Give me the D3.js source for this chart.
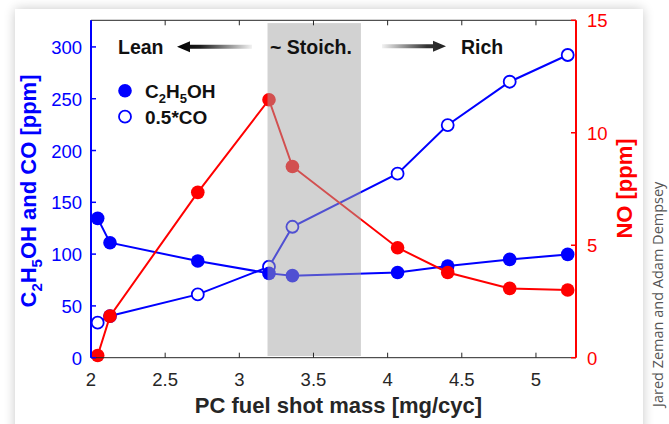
<!DOCTYPE html>
<html>
<head>
<meta charset="utf-8">
<script src="https://cdn.jsdelivr.net/npm/d3@7"></script>
<style>
  html, body { margin: 0; padding: 0; background: #ffffff; }
  svg { display: block; }
</style>
</head>
<body>
<svg id="chart" width="669" height="424"></svg>
<script>
// PC fuel shot mass sweep: emissions measured at each injection setting
const shotMass = [2.045, 2.128, 2.72, 3.2, 3.358, 4.067, 4.405, 4.823, 5.214];
const ethanolPpm = [134.5, 111, 93.3, 81.4, 79.2, 82.3, 88.5, 94.9, 99.7];
const halfCoPpm = [33.8, 40.2, 61.1, 87.8, 126.4, 177.6, 224.6, 266.4, 292.2];
const noPpm = [0.1, 1.85, 7.35, 11.47, 8.5, 4.89, 3.79, 3.08, 3.01];

const xTicks = [2, 2.5, 3, 3.5, 4, 4.5, 5];
const leftTicks = [0, 50, 100, 150, 200, 250, 300];
const rightTicks = [0, 5, 10, 15];
const stoichBand = [3.19, 3.82];
const stoichBandY = [1.6, 323];

const svg = d3.select("#chart");
const FONT = "'Liberation Sans', Arial, Helvetica, sans-serif";
const BLUE = "#0000ff", RED = "#ff0000", DARK = "#262626";

const plot = { left: 91, right: 576, top: 20.3, bottom: 357.7 };

const x = d3.scaleLinear().domain([2, 5.27]).range([plot.left, plot.right]);
const yL = d3.scaleLinear().domain([0, 325.7]).range([plot.bottom, plot.top]);
const yR = d3.scaleLinear().domain([0, 15]).range([plot.bottom, plot.top]);

// ---- card with soft shadow ----
const defs = svg.append("defs");
const shadow = defs.append("filter").attr("id", "cardShadow")
  .attr("x", "-10%").attr("y", "-10%").attr("width", "120%").attr("height", "120%");
shadow.append("feGaussianBlur").attr("in", "SourceAlpha").attr("stdDeviation", 6).attr("result", "b");
shadow.append("feOffset").attr("in", "b").attr("dx", 0).attr("dy", 0).attr("result", "o");
shadow.append("feComponentTransfer").attr("in", "o").attr("result", "s")
  .append("feFuncA").attr("type", "linear").attr("slope", 0.22);
const merge = shadow.append("feMerge");
merge.append("feMergeNode").attr("in", "s");
merge.append("feMergeNode").attr("in", "SourceGraphic");

svg.append("rect").attr("x", 15).attr("y", 9).attr("width", 628).attr("height", 440)
  .attr("fill", "#ffffff").attr("filter", "url(#cardShadow)");

// credit line beside the card
svg.append("text")
  .attr("transform", "translate(663,407) rotate(-90)")
  .attr("font-family", "'Open Sans', 'DejaVu Sans', sans-serif")
  .attr("font-size", 14.5).attr("fill", "#555555")
  .text("Jared Zeman and Adam Dempsey");

// ---- data lines and markers ----
const pts = (ys) => shotMass.map((m, i) => [m, ys[i]]);
const lineL = d3.line().x(d => x(d[0])).y(d => yL(d[1]));
const lineR = d3.line().x(d => x(d[0])).y(d => yR(d[1]));

svg.append("path").attr("d", lineL(pts(ethanolPpm)))
  .attr("fill", "none").attr("stroke", BLUE).attr("stroke-width", 2);
svg.append("path").attr("d", lineL(pts(halfCoPpm)))
  .attr("fill", "none").attr("stroke", BLUE).attr("stroke-width", 2);

svg.append("g").selectAll("circle").data(pts(halfCoPpm)).join("circle")
  .attr("cx", d => x(d[0])).attr("cy", d => yL(d[1])).attr("r", 6)
  .attr("fill", "#ffffff").attr("stroke", BLUE).attr("stroke-width", 1.8);
svg.append("g").selectAll("circle").data(pts(ethanolPpm)).join("circle")
  .attr("cx", d => x(d[0])).attr("cy", d => yL(d[1])).attr("r", 6.8)
  .attr("fill", BLUE);

svg.append("path").attr("d", lineR(pts(noPpm)))
  .attr("fill", "none").attr("stroke", RED).attr("stroke-width", 2);
svg.append("g").selectAll("circle").data(pts(noPpm)).join("circle")
  .attr("cx", d => x(d[0])).attr("cy", d => yR(d[1])).attr("r", 6.8)
  .attr("fill", RED);

// translucent stoichiometric band over the data
svg.append("rect")
  .attr("x", x(stoichBand[0])).attr("width", x(stoichBand[1]) - x(stoichBand[0]))
  .attr("y", yL(stoichBandY[1])).attr("height", yL(stoichBandY[0]) - yL(stoichBandY[1]))
  .attr("fill", "rgb(163,163,163)").attr("fill-opacity", 0.49);

// ---- axes ----
const tickLen = 5;
// top and bottom frame
svg.append("line").attr("x1", plot.left).attr("x2", plot.right)
  .attr("y1", plot.top).attr("y2", plot.top).attr("stroke", DARK).attr("stroke-width", 1);
svg.append("line").attr("x1", plot.left).attr("x2", plot.right)
  .attr("y1", plot.bottom).attr("y2", plot.bottom).attr("stroke", DARK).attr("stroke-width", 1);

const xg = svg.append("g").attr("font-family", FONT);
xTicks.forEach(t => {
  const px = x(t);
  xg.append("line").attr("x1", px).attr("x2", px).attr("y1", plot.bottom).attr("y2", plot.bottom - tickLen)
    .attr("stroke", DARK);
  xg.append("line").attr("x1", px).attr("x2", px).attr("y1", plot.top).attr("y2", plot.top + tickLen)
    .attr("stroke", DARK);
  xg.append("text").attr("x", px).attr("y", 386).attr("text-anchor", "middle")
    .attr("font-size", 18.5).attr("fill", DARK).text(d3.format("~g")(t));
});

// left axis
const lg = svg.append("g").attr("font-family", FONT);
lg.append("line").attr("x1", plot.left).attr("x2", plot.left)
  .attr("y1", plot.top).attr("y2", plot.bottom).attr("stroke", BLUE).attr("stroke-width", 2);
leftTicks.forEach(t => {
  const py = yL(t);
  lg.append("line").attr("x1", plot.left).attr("x2", plot.left + tickLen)
    .attr("y1", py).attr("y2", py).attr("stroke", BLUE).attr("stroke-width", 1.5);
  lg.append("text").attr("x", 82).attr("y", py + 7).attr("text-anchor", "end")
    .attr("font-size", 18.5).attr("fill", BLUE).text(t);
});

// right axis
const rg = svg.append("g").attr("font-family", FONT);
rg.append("line").attr("x1", plot.right).attr("x2", plot.right)
  .attr("y1", plot.top).attr("y2", plot.bottom).attr("stroke", RED).attr("stroke-width", 2);
rightTicks.forEach(t => {
  const py = yR(t);
  rg.append("line").attr("x1", plot.right).attr("x2", plot.right - tickLen)
    .attr("y1", py).attr("y2", py).attr("stroke", RED).attr("stroke-width", 1.5);
  rg.append("text").attr("x", 587).attr("y", py + 7).attr("text-anchor", "start")
    .attr("font-size", 18.5).attr("fill", RED).text(t);
});

// ---- axis titles ----
svg.append("text").attr("x", 338.5).attr("y", 413).attr("text-anchor", "middle")
  .attr("font-family", FONT).attr("font-weight", "bold").attr("font-size", 22)
  .attr("fill", DARK).text("PC fuel shot mass [mg/cyc]");

// write a formula with lowered, smaller subscript digits
function chemical(sel, parts, subSize, shift) {
  let lowered = false;
  parts.forEach(p => {
    const ts = sel.append("tspan").text(p.t);
    if (p.sub) {
      ts.attr("font-size", subSize);
      if (!lowered) ts.attr("dy", shift);
      lowered = true;
    } else if (lowered) {
      ts.attr("dy", -shift);
      lowered = false;
    }
  });
}

const yTitle = svg.append("text").attr("transform", "translate(36,191) rotate(-90)")
  .attr("text-anchor", "middle").attr("font-family", FONT).attr("font-weight", "bold")
  .attr("font-size", 22).attr("fill", BLUE);
chemical(yTitle, [{t: "C"}, {t: "2", sub: true}, {t: "H"}, {t: "5", sub: true}, {t: "OH and CO [ppm]"}], 15, 6);

svg.append("text").attr("transform", "translate(632,188.5) rotate(-90)")
  .attr("text-anchor", "middle").attr("font-family", FONT).attr("font-weight", "bold")
  .attr("font-size", 22).attr("fill", RED).text("NO [ppm]");

// ---- regime annotations ----
const ann = svg.append("g").attr("font-family", FONT).attr("font-weight", "bold")
  .attr("font-size", 19.5).attr("fill", "#111111");
ann.append("text").attr("x", 118).attr("y", 53.5).text("Lean");
ann.append("text").attr("x", 270).attr("y", 53.5).text("~ Stoich.");
ann.append("text").attr("x", 461).attr("y", 53.5).text("Rich");

const gl = defs.append("linearGradient").attr("id", "leanGrad")
  .attr("gradientUnits", "userSpaceOnUse").attr("x1", 177).attr("x2", 252).attr("y1", 0).attr("y2", 0);
gl.append("stop").attr("offset", 0).attr("stop-color", "#000000");
gl.append("stop").attr("offset", 0.3).attr("stop-color", "#1a1a1a");
gl.append("stop").attr("offset", 1).attr("stop-color", "#f2f2f2");
const gr = defs.append("linearGradient").attr("id", "richGrad")
  .attr("gradientUnits", "userSpaceOnUse").attr("x1", 382).attr("x2", 446).attr("y1", 0).attr("y2", 0);
gr.append("stop").attr("offset", 0).attr("stop-color", "#f2f2f2");
gr.append("stop").attr("offset", 0.7).attr("stop-color", "#333333");
gr.append("stop").attr("offset", 1).attr("stop-color", "#222222");

function arrowPath(tail, tip, cy) {
  const dir = tip > tail ? 1 : -1;
  const head = 13, hw = 5.5, sw = 2;
  const base = tip - dir * head;
  return `M${tail},${cy - sw} L${base},${cy - sw} L${base},${cy - hw} L${tip},${cy} ` +
         `L${base},${cy + hw} L${base},${cy + sw} L${tail},${cy + sw} Z`;
}
svg.append("path").attr("d", arrowPath(252, 177, 46.7)).attr("fill", "url(#leanGrad)");
svg.append("path").attr("d", arrowPath(382, 446, 46.3)).attr("fill", "url(#richGrad)");

// ---- legend ----
const leg = svg.append("g").attr("font-family", FONT).attr("font-weight", "bold")
  .attr("font-size", 19).attr("fill", "#111111");
leg.append("circle").attr("cx", 125).attr("cy", 90.7).attr("r", 6.8).attr("fill", BLUE);
leg.append("circle").attr("cx", 125).attr("cy", 116.7).attr("r", 6).attr("fill", "#ffffff")
  .attr("stroke", BLUE).attr("stroke-width", 1.8);
const l1 = leg.append("text").attr("x", 145).attr("y", 97.5);
chemical(l1, [{t: "C"}, {t: "2", sub: true}, {t: "H"}, {t: "5", sub: true}, {t: "OH"}], 13, 5);
leg.append("text").attr("x", 145).attr("y", 123.5).text("0.5*CO");
</script>
</body>
</html>
